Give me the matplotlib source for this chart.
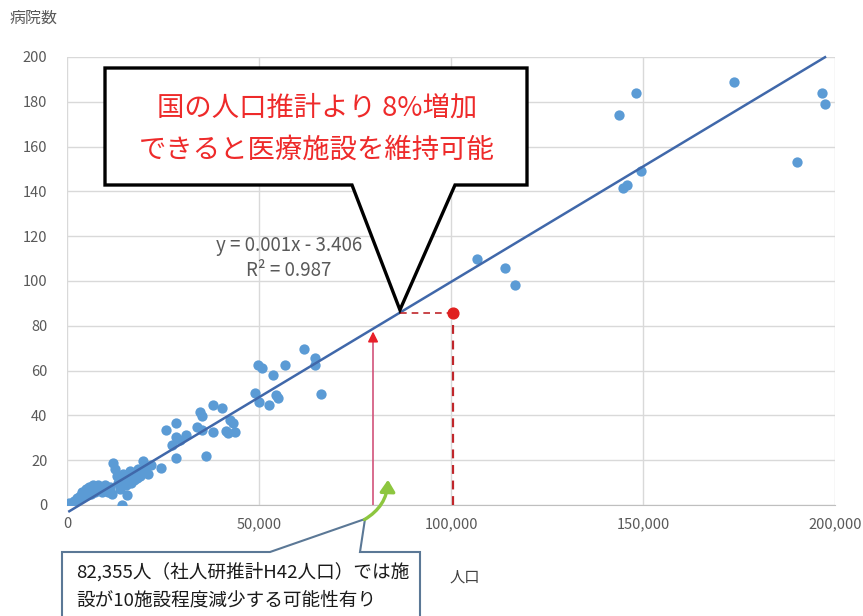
import matplotlib
matplotlib.use("Agg")
import matplotlib.pyplot as plt
import matplotlib.ticker as ticker
from matplotlib.patches import Polygon, FancyArrowPatch

plt.rcParams["font.family"] = ["Noto Sans CJK JP", "DejaVu Sans"]

# ── data (population vs number of hospitals) ──────────────────────────────────
population = [
    600, 1200, 1800, 2300, 2700, 3100, 3500, 3800, 4100, 4500, 4900, 5200,
    5600, 5900, 6300, 6700, 7000, 7400, 7800, 8200, 8600, 9000, 9400, 9800,
    10300, 10800, 11200, 11700, 12100, 12500, 12900, 13300, 13700, 14200,
    14500, 14900, 15300, 15500, 15900, 16300, 16600, 17000, 17400, 17800,
    18200, 18600, 19000, 19400, 19900, 20400, 21000, 22000,
    24600, 25700, 27300, 28400, 28400, 28500, 29400, 31100, 33800, 34700,
    35100, 35100, 36200, 37900, 38100, 40300, 41500, 42000, 42400, 43300,
    43800,
    49000, 49800, 50100, 50700, 52700, 53700, 54400, 55000, 56700, 61700,
    64500, 64700, 66200,
    106800, 114000, 116700, 143700, 144800, 145800, 148200, 149500, 173700,
    190100, 196600, 197400,
]
hospitals = [
    1, 0.5, 2, 1.5, 3, 2.5, 4, 6, 3.5, 5, 7, 4.5,
    8, 6, 5, 9, 7, 6, 8, 9, 7, 6, 8, 9,
    7, 6, 8, 5, 18.6, 16, 13, 10, 7, 0,
    14, 11, 9, 4.5, 12, 15, 10, 13, 11, 14,
    12, 16, 13, 15, 19.5, 17, 14, 18,
    16.5, 33.7, 26.8, 36.7, 21.2, 30.5, 29, 31.3, 34.6, 41.7,
    39.6, 33.5, 21.8, 44.6, 32.7, 43.4, 33, 32, 38, 36.5,
    32.7,
    50, 62.5, 46, 61, 44.6, 58, 49, 47.6, 62.5, 69.6,
    65.8, 62.5, 49.6,
    110, 106, 98, 174, 141.5, 143, 184, 149, 189,
    153, 184, 179,
]

slope = 0.00103
intercept = -3.406
eq_label = "y = 0.001x - 3.406"
r2_label = "R² = 0.987"

target_pop, target_hosp = 100500, 85.7   # red point
projected_pop = 79700                    # red arrow
line_hit_pop = 86700                     # where dashed line meets trend

x_ticks = [0, 50000, 100000, 150000, 200000]
y_ticks = list(range(0, 201, 20))

note_top = ["国の人口推計より 8%増加", "できると医療施設を維持可能"]
note_bottom = ["82,355人（社人研推計H42人口）では施", "設が10施設程度減少する可能性有り"]


def trend(x):
    return slope * x + intercept


W, H = 863, 616
XMAX, YMAX = 200000, 200


def fpx(px, py):
    # figure pixel -> figure fraction
    return px / W, 1 - py / H


fig = plt.figure(figsize=(W / 100, H / 100), dpi=100)
ax = fig.add_axes([67 / W, 1 - 505 / H, 768 / W, 448 / H])

ax.set_xlim(0, XMAX)
ax.set_ylim(0, YMAX)
ax.set_xticks(x_ticks)
ax.set_yticks(y_ticks)
ax.xaxis.set_major_formatter(ticker.FuncFormatter(lambda v, _: f"{int(v):,}"))
ax.grid(True, color="#D9D9D9", linewidth=1)
ax.set_axisbelow(True)
for s in ["top", "right", "left"]:
    ax.spines[s].set_visible(False)
ax.spines["bottom"].set_color("#BFBFBF")
ax.tick_params(length=0, labelcolor="#595959", labelsize=10.5)
ax.tick_params(axis="y", pad=14)
ax.tick_params(axis="x", pad=9)

ax.scatter(population, hospitals, s=55, color="#5B9BD5", zorder=3, linewidths=0)

xs = [min(population), max(population)]
ax.plot(xs, [trend(v) for v in xs], color="#4068AA", linewidth=1.8, zorder=4,
        clip_on=False)

# red projection lines
ax.plot([target_pop, target_pop], [0, target_hosp], color="#C0262B",
        linewidth=1.6, dashes=(4, 3), zorder=4)
ax.plot([line_hit_pop, target_pop], [target_hosp, target_hosp], color="#C0262B",
        linewidth=1.2, dashes=(4, 3), zorder=4)
ax.scatter([target_pop], [target_hosp], s=60, color="#E0201F", zorder=5)

arrow_top = trend(projected_pop)
ax.plot([projected_pop, projected_pop], [0, arrow_top - 4], color="#D2537A",
        linewidth=1.2, zorder=4)
ax.annotate("", xy=(projected_pop, arrow_top), xytext=(projected_pop, arrow_top - 6),
            arrowprops=dict(arrowstyle="-|>,head_length=0.6,head_width=0.3",
                            color="#E8202A", lw=1.2), zorder=5)


# upper speech balloon (axes fraction)
def apx(px, py):
    return (px - 67) / 768, (505 - py) / 448


tip = (line_hit_pop / XMAX, trend(line_hit_pop) / YMAX + 0.006)
verts = [apx(105, 68), apx(527, 68), apx(527, 185), apx(455, 185), tip,
         apx(352, 185), apx(105, 185)]
ax.add_patch(Polygon(verts, closed=True, facecolor="white", edgecolor="black",
                     linewidth=2.4, transform=ax.transAxes, zorder=6,
                     clip_on=False, joinstyle="miter"))
for i, line in enumerate(note_top):
    fig.text(*fpx(317, 108 + 42 * i), line, color="#EE2A2A", fontsize=19.7,
             ha="center", va="center", zorder=7)

# trend equation
fig.text(*fpx(289, 245), eq_label, color="#595959", fontsize=13.5,
         ha="center", va="center")
fig.text(*fpx(289, 271), r2_label, color="#595959", fontsize=13.5,
         ha="center", va="center")

# lower speech balloon (figure pixels)
verts2 = [fpx(62, 552), fpx(270, 552), fpx(365, 519), fpx(360, 552),
          fpx(420, 552), fpx(420, 640), fpx(62, 640)]
fig.add_artist(Polygon(verts2, closed=True, facecolor="white", edgecolor="#5B7896",
                       linewidth=1.5, transform=fig.transFigure, zorder=6,
                       clip_on=False))
for i, line in enumerate(note_bottom):
    fig.text(*fpx(76, 572 + 28 * i), line, color="#1A1A1A", fontsize=13.4,
             ha="left", va="center", zorder=7)

# green curved arrow
fig.add_artist(FancyArrowPatch(fpx(362, 521), fpx(388, 477),
                               connectionstyle="arc3,rad=0.3",
                               arrowstyle="-|>,head_length=7,head_width=4.5",
                               color="#8DC63F", linewidth=2.4,
                               transform=fig.transFigure, zorder=8))

# axis titles
fig.text(*fpx(34, 18), "病院数", color="#595959", fontsize=11.5,
         ha="center", va="center")
fig.text(*fpx(465, 577), "人口", color="#404040", fontsize=11,
         ha="center", va="center")

fig.savefig("out.png", dpi=100)
